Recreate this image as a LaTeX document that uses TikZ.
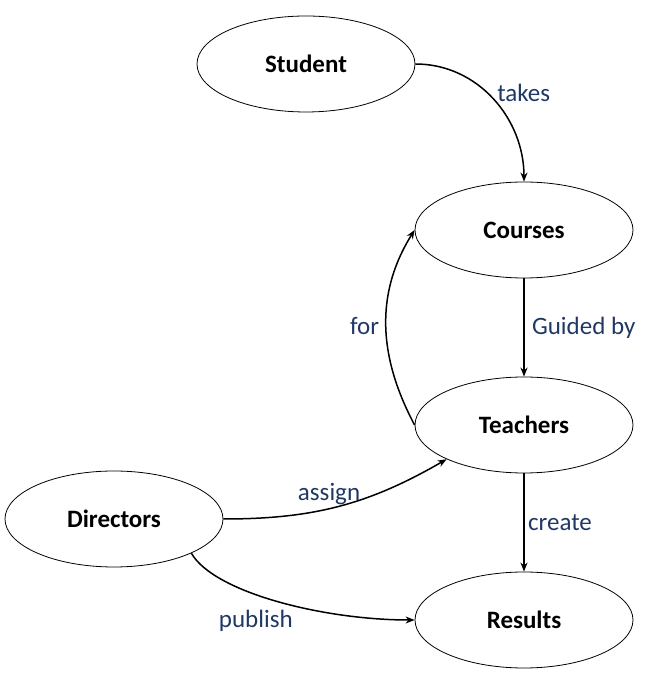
\documentclass[tikz,border=0pt]{standalone}
\usepackage{fontspec}
\setmainfont{Carlito}
\usetikzlibrary{shapes.geometric,arrows.meta}
\definecolor{lblblue}{HTML}{203864}
\begin{document}
\begin{tikzpicture}[x=1pt, y=1pt, node distance={195pt},
  main/.style = {draw, ellipse, line width=0.8pt, minimum width=218pt, minimum height=96pt, inner sep=0pt, font=\fontsize{25}{29}\selectfont\bfseries},
  rel/.style = {text=lblblue, font=\fontsize{25}{29}\selectfont},
  link/.style = {line width=1.5pt, -{Stealth[length=9pt,width=7pt]}}]
\useasboundingbox (0,0) rectangle (650,693);

\node[main] (stu) at (306,629) {Student};
\node[main] (cou) at (524,463) {Courses};
\node[main] (tea) [below of=cou] {Teachers};
\node[main] (res) [below of=tea] {Results};
\node[main] (dir) at (114,174) {Directors};

\draw[link] (stu.east) to[out=0, in=90] node[pos=0.5, right, rel, yshift=6pt] {takes} (cou.north);
\draw[link] (cou.south) -- node[right, rel, xshift=4pt] {Guided by} (tea.north);
\draw[link] (tea.west) to[out=118, in=238] node[left, rel, xshift=-3pt] {for} (cou.west);
\draw[link] (dir.east) to[out=0, in=210] node[pos=0.45, above, rel] {assign} (tea.south west);
\draw[link] (tea.south) -- node[right, rel] {create} (res.north);
\draw[link] (dir.south east) to[out=-60, in=180, out looseness=0.5] node[pos=0.41, below, rel, yshift=-12pt] {publish} (res.west);

\end{tikzpicture}
\end{document}
